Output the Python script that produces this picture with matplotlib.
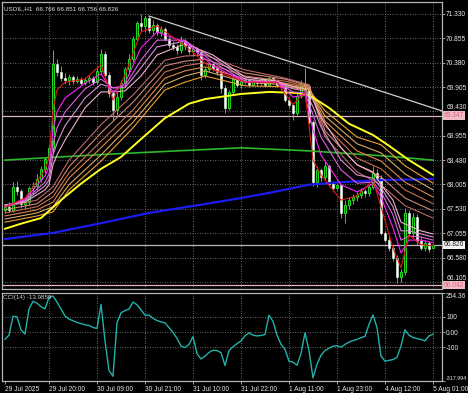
import matplotlib
matplotlib.use("Agg")
import matplotlib.pyplot as plt
import matplotlib.transforms as mtransforms
import numpy as np

plt.rcParams['font.family'] = ['Liberation Sans', 'DejaVu Sans']

# ---------------- data (hourly bars) ----------------
OPEN = [67.50, 67.56, 67.50, 67.95, 67.88, 67.62, 67.66, 67.93, 67.97, 68.12,
        68.30, 68.50, 68.72, 70.35, 70.20, 70.08, 70.04, 70.10, 70.02, 70.07,
        69.99, 70.05, 70.08, 70.00, 70.22, 70.55, 70.14, 69.78, 69.45, 69.72,
        69.98, 70.25, 70.45, 70.85, 71.15, 71.10, 71.25, 71.02, 71.12, 70.98,
        71.03, 70.85, 70.72, 70.68, 70.62, 70.80, 70.70, 70.60, 70.64, 70.58,
        70.14, 70.26, 70.35, 70.28, 70.20, 69.88, 69.50, 69.80, 70.06, 69.95,
        70.00, 70.05, 69.95, 70.02, 69.98, 70.06, 69.95, 70.08, 70.02, 69.95,
        69.90, 69.66, 69.55, 69.40, 69.74, 69.96, 69.92, 69.22, 68.06, 68.28,
        68.15, 68.36, 68.02, 67.94, 68.00, 67.44, 67.60, 67.70, 67.76, 67.80,
        67.88, 67.83, 67.96, 68.22, 68.13, 67.06, 66.93, 66.76, 66.58, 66.20,
        66.30, 67.45, 67.05, 67.38, 66.90, 66.76, 66.86, 66.766]
HIGH = [67.62, 67.66, 68.05, 68.08, 67.92, 67.74, 67.98, 68.06, 68.20, 68.36,
        68.55, 68.78, 70.62, 70.45, 70.32, 70.18, 70.16, 70.14, 70.12, 70.10,
        70.10, 70.14, 70.12, 70.30, 70.65, 70.60, 70.20, 69.85, 69.80, 70.05,
        70.30, 70.55, 70.90, 71.20, 71.33, 71.30, 71.30, 71.22, 71.16, 71.10,
        71.08, 70.90, 70.80, 70.74, 70.90, 70.84, 70.76, 70.70, 70.68, 70.62,
        70.30, 70.40, 70.38, 70.32, 70.24, 69.95, 69.85, 70.12, 70.10, 70.06,
        70.10, 70.08, 70.06, 70.05, 70.10, 70.08, 70.12, 70.10, 70.04, 69.98,
        69.94, 69.72, 69.60, 69.78, 70.05, 70.28, 69.95, 69.26, 68.36, 68.32,
        68.46, 68.40, 68.08, 68.04, 68.02, 67.70, 67.76, 67.82, 67.86, 67.94,
        67.92, 68.00, 68.36, 68.30, 68.18, 67.10, 67.00, 66.80, 66.62, 66.36,
        67.55, 67.50, 67.45, 67.42, 66.98, 66.92, 66.90, 66.851]
LOW = [67.44, 67.46, 67.46, 67.80, 67.55, 67.52, 67.60, 67.82, 67.90, 68.05,
       68.22, 68.42, 68.62, 70.12, 70.02, 69.96, 69.95, 69.96, 69.98, 69.94,
       69.95, 69.98, 69.94, 69.96, 70.15, 70.08, 69.72, 69.26, 69.36, 69.65,
       69.90, 70.15, 70.40, 70.80, 71.00, 70.98, 70.95, 70.92, 70.92, 70.90,
       70.80, 70.66, 70.62, 70.55, 70.56, 70.62, 70.55, 70.52, 70.52, 70.05,
       70.08, 70.20, 70.22, 70.14, 69.78, 69.40, 69.45, 69.76, 69.90, 69.88,
       69.96, 69.90, 69.92, 69.92, 69.95, 69.90, 69.92, 69.96, 69.90, 69.85,
       69.62, 69.50, 69.26, 69.36, 69.70, 69.85, 69.18, 67.98, 67.96, 68.08,
       68.10, 67.98, 67.88, 67.90, 67.36, 67.26, 67.52, 67.62, 67.68, 67.74,
       67.76, 67.78, 67.92, 68.08, 67.02, 66.88, 66.70, 66.52, 66.08, 66.10,
       66.24, 67.00, 66.98, 66.82, 66.72, 66.70, 66.68, 66.756]
CLOSE = [67.56, 67.50, 67.95, 67.88, 67.62, 67.66, 67.93, 67.97, 68.12, 68.30,
         68.50, 68.72, 70.35, 70.20, 70.08, 70.04, 70.10, 70.02, 70.07, 69.99,
         70.05, 70.08, 70.00, 70.22, 70.55, 70.14, 69.78, 69.45, 69.72, 69.98,
         70.25, 70.45, 70.85, 71.15, 71.10, 71.25, 71.02, 71.12, 70.98, 71.03,
         70.85, 70.72, 70.68, 70.62, 70.80, 70.70, 70.60, 70.64, 70.58, 70.14,
         70.26, 70.35, 70.28, 70.20, 69.88, 69.50, 69.80, 70.06, 69.95, 70.00,
         70.05, 69.95, 70.02, 69.98, 70.06, 69.95, 70.08, 70.02, 69.95, 69.90,
         69.66, 69.55, 69.40, 69.74, 69.96, 69.92, 69.22, 68.06, 68.28, 68.15,
         68.36, 68.02, 67.94, 68.00, 67.44, 67.60, 67.70, 67.76, 67.80, 67.88,
         67.83, 67.96, 68.22, 68.13, 67.06, 66.93, 66.76, 66.58, 66.20, 66.30,
         67.45, 67.05, 67.38, 66.90, 66.76, 66.86, 66.74, 66.826]

CCI = [-46, -20, 103, 100, 15, -13, 150, 200, 188, 165,
       151, 225, 235, 195, 150, 105, 85, 74, 63, 55,
       48, 43, 30, 24, 180, -57, -250, -287, 60, 125,
       140, 150, 195, 178, 145, 110, 110, 90, 75, 67,
       60, 30, -2, -40, -90, -101, -80, -30, -140, -175,
       -156, -132, -118, -120, -134, -217, -120, -95, -75, -57,
       -24, -5, -20, -25, -22, -15, 110, 70, -20, -80,
       -112, -190, -195, -215, -140, -5, -120, -298, -210, -150,
       -120, -105, -92, -88, -98, -80, -65, -55, -48, -36,
       -28, 50, 112, 30, -156, -189, -184, -178, -165, -90,
       15, -20, -35, -42, -48, -57, -25, -14]

# fast ribbon (read at these bar indices)
SHORT_IDX = [0, 5, 10, 11, 12, 13, 15, 20, 24, 27, 30, 34, 38, 45, 52, 60, 68, 72, 75,
             77, 79, 84, 88, 92, 94, 97, 99, 101, 104, 107]
S1 = [67.57, 67.74, 68.29, 68.52, 69.46, 69.85, 70.00, 70.06, 70.34, 69.65, 70.14, 70.98,
      71.10, 70.71, 70.24, 70.00, 70.00, 69.56, 69.81, 68.48, 68.19, 67.70, 67.78, 68.09,
      67.57, 66.77, 66.38, 67.02, 66.83, 66.81]
S2 = [67.57, 67.72, 68.17, 68.35, 69.07, 69.42, 69.69, 69.98, 70.16, 69.81, 69.98, 70.67,
      70.98, 70.78, 70.32, 70.00, 70.00, 69.71, 69.75, 69.07, 68.58, 68.00, 67.86, 68.02,
      67.76, 67.16, 66.67, 66.92, 66.92, 66.87]
S3 = [67.59, 67.70, 68.05, 68.21, 68.78, 69.11, 69.42, 69.87, 70.06, 69.89, 69.93, 70.43,
      70.82, 70.82, 70.39, 70.02, 70.00, 69.81, 69.79, 69.36, 68.93, 68.29, 68.03, 68.05,
      67.86, 67.41, 66.92, 67.00, 66.98, 66.92]
S4 = [67.59, 67.68, 67.98, 68.09, 68.58, 68.81, 69.15, 69.69, 69.96, 69.89, 69.89, 70.28,
      70.69, 70.80, 70.47, 70.06, 70.00, 69.87, 69.83, 69.52, 69.13, 68.48, 68.19, 68.13,
      67.94, 67.57, 67.10, 67.10, 67.04, 66.98]
S5 = [67.61, 67.66, 67.90, 68.00, 68.39, 68.58, 68.87, 69.50, 69.81, 69.81, 69.83, 70.12,
      70.53, 70.75, 70.53, 70.10, 70.02, 69.91, 69.87, 69.65, 69.32, 68.72, 68.39, 68.25,
      68.00, 67.70, 67.27, 67.20, 67.10, 67.04]

# slow ribbon
LONG_IDX = [0, 8, 12, 16, 24, 32, 40, 45, 50, 60, 70, 76, 80, 88, 94, 100, 107]
L1 = [67.57, 67.70, 67.96, 68.48, 69.17, 69.75, 70.43, 70.51, 70.53, 70.24, 70.08, 69.95, 68.93, 68.25, 68.00, 67.59, 67.35]
L2 = [67.51, 67.63, 67.86, 68.35, 69.01, 69.61, 70.32, 70.41, 70.45, 70.18, 70.06, 69.93, 69.05, 68.39, 68.15, 67.74, 67.49]
L3 = [67.45, 67.57, 67.76, 68.23, 68.85, 69.46, 70.20, 70.32, 70.38, 70.12, 70.02, 69.91, 69.15, 68.52, 68.31, 67.90, 67.63]
L4 = [67.39, 67.51, 67.66, 68.13, 68.72, 69.34, 70.08, 70.22, 70.30, 70.06, 69.98, 69.89, 69.24, 68.66, 68.46, 68.05, 67.76]
L5 = [67.33, 67.45, 67.57, 68.00, 68.58, 69.22, 69.96, 70.12, 70.22, 70.00, 69.95, 69.87, 69.34, 68.80, 68.62, 68.21, 67.90]
L6 = [67.27, 67.39, 67.47, 67.90, 68.46, 69.11, 69.85, 70.00, 70.12, 69.93, 69.91, 69.85, 69.44, 68.93, 68.78, 68.37, 68.03]

YEL_IDX = [0, 4, 9, 14, 19, 24, 29, 34, 40, 46, 50, 59, 66, 73, 76, 81, 86, 92, 96, 101, 107]
YEL = [67.14, 67.24, 67.35, 67.70, 68.02, 68.31, 68.54, 68.89, 69.30, 69.58, 69.67,
       69.77, 69.81, 69.79, 69.75, 69.50, 69.19, 68.97, 68.76, 68.48, 68.19]

GREEN_IDX = [0, 27, 59, 76, 95, 107]
GREEN = [68.48, 68.60, 68.72, 68.66, 68.56, 68.48]
BLUE_IDX = [0, 12, 24, 36, 49, 59, 66, 76, 84, 94, 107]
BLUE = [66.94, 67.06, 67.25, 67.45, 67.61, 67.74, 67.84, 68.00, 68.05, 68.09, 68.11]

TREND_BARS = [36, 109.25]
TREND_PRICES = [71.29, 69.44]

LEVELS = [69.347, 66.826, 66.042]
LEVEL_LABELS = ['69.347', '66.826', '66.042']

PRICE_TICKS = [71.330, 70.855, 70.380, 69.905, 69.430, 68.955, 68.480, 68.005,
               67.530, 67.055, 66.580, 66.105]
CCI_TICKS = [-317.994, -100, 0, 100, 254.36]
CCI_TICK_LABELS = ['-317.994', '-100', '0.00', '100', '254.36']

TIME_IDX = [0, 11, 23, 35, 47, 59, 71, 83, 95, 107]
TIME_LABELS = ['29 Jul 2025', '29 Jul 20:00', '30 Jul 09:00', '30 Jul 21:00',
               '31 Jul 10:00', '31 Jul 22:00', '1 Aug 11:00', '1 Aug 23:00',
               '4 Aug 12:00', '5 Aug 01:00']

HEADER = 'USOIL,H1  66.766 66.851 66.756 66.826'
CCI_TITLE = 'CCI(14) -13.9859'

# ---------------- figure ----------------
W, H = 468, 393
fig = plt.figure(figsize=(W / 100, H / 100), dpi=100, facecolor='black')

def frac(x0, y0, x1, y1):
    return [x0 / W, 1 - y1 / H, (x1 - x0) / W, (y1 - y0) / H]

ax = fig.add_axes(frac(2, 2, 442, 289), facecolor='black')
cx = fig.add_axes(frac(2, 293, 442, 381), facecolor='black')

XMIN, XMAX = -0.75, 109.25
FS = 4.8
TXT = '#e6e6e6'
GRIDC = '#8c8c8c'
LIME = '#1ee01e'

for a in (ax, cx):
    a.set_xlim(XMIN, XMAX)
    for s in a.spines.values():
        s.set_color('#b4b4b4')
        s.set_linewidth(0.9)

ax.set_ylim(65.966, 71.564)
cx.set_ylim(-317.994, 254.36)

# grids
for a in (ax, cx):
    for i in TIME_IDX[1:]:
        a.axvline(i, color=GRIDC, lw=0.6, ls=(0, (1, 2)), zorder=0)
for p in PRICE_TICKS:
    ax.axhline(p, color=GRIDC, lw=0.6, ls=(0, (1, 2)), zorder=0)
for v in [100, 0, -100]:
    cx.axhline(v, color=GRIDC, lw=0.6, ls=(0, (1, 2)), zorder=0)

# level lines
level_cols = ['#dcb4bc', '#b8b8b8', '#e4b0bc']
for lv, col in zip(LEVELS, level_cols):
    ax.axhline(lv, color=col, lw=0.9, zorder=1)

# candles
idx = np.arange(len(CLOSE))
o = np.array(OPEN); h = np.array(HIGH); l = np.array(LOW); c = np.array(CLOSE)
up = c >= o
ax.vlines(idx, l, h, color=LIME, lw=0.7, zorder=2)
bot = np.minimum(o, c)
hgt = np.maximum(np.abs(c - o), 0.012)
ax.bar(idx[up], hgt[up], bottom=bot[up], width=0.62, color='#0a3a0a',
       edgecolor=LIME, linewidth=0.7, zorder=3)
ax.bar(idx[~up], hgt[~up], bottom=bot[~up], width=0.62, color='white',
       edgecolor='#e8ffe8', linewidth=0.4, zorder=3)

# moving averages
ax.plot(BLUE_IDX, BLUE, color='#1c1cf0', lw=1.6, zorder=4)
ax.plot(GREEN_IDX, GREEN, color='#2cb82c', lw=1.2, zorder=4)
long_cols = ['#c06868', '#d08878', '#c87050', '#e08848', '#d8a868', '#f0a030']
for ys, col in zip([L1, L2, L3, L4, L5, L6], long_cols):
    ax.plot(LONG_IDX, ys, color=col, lw=0.8, zorder=5)
ax.plot(YEL_IDX, YEL, color='#ffff20', lw=1.4, zorder=5)
short_cols = ['#e01818', '#ff20ff', '#e060e0', '#d890d8', '#f0b0d0']
for ys, col in zip([S1, S2, S3, S4, S5][::-1], short_cols[::-1]):
    ax.plot(SHORT_IDX, ys, color=col, lw=0.8, zorder=6)

# trendline
ax.plot(TREND_BARS, TREND_PRICES, color='#cfcfcf', lw=0.9, zorder=6)

# price axis
ax.yaxis.tick_right()
ax.set_yticks(PRICE_TICKS)
ax.set_yticklabels(['%.3f' % p for p in PRICE_TICKS])
ax.tick_params(axis='y', colors='#b4b4b4', labelcolor=TXT, labelsize=FS,
               length=2, width=0.6, pad=1)
ylabs = ax.get_yticklabels()
ylabs[-1].set_va('bottom')   # 66.105 sits just above the 66.042 box
ylabs[4].set_va('bottom')    # 69.430 sits just above the 69.347 box
ax.set_xticks([])

# level price boxes
trans = mtransforms.blended_transform_factory(ax.transAxes, ax.transData)
box_fc = ['#f2bcc6', '#f4f4f4', '#f2bcc6']
box_tc = ['#e0607a', '#202020', '#e0607a']
for lv, lab, fc, tc in zip(LEVELS, LEVEL_LABELS, box_fc, box_tc):
    ax.text(1.0045, lv, lab, transform=trans, ha='left', va='center', fontsize=FS,
            color=tc, clip_on=False, zorder=10,
            bbox=dict(boxstyle='square,pad=0.1', fc=fc, ec='none'))

# header
ax.text(0.005, 0.978, HEADER, transform=ax.transAxes, ha='left', va='center',
        fontsize=4.5, color=TXT, zorder=10)

# CCI
cx.plot(idx, CCI, color='#20b2aa', lw=1.0, zorder=4)
cx.text(0.002, 0.945, CCI_TITLE, transform=cx.transAxes, ha='left', va='center',
        fontsize=4.5, color='#d0d0d0', zorder=10)
cx.yaxis.tick_right()
cx.set_yticks(CCI_TICKS)
cx.set_yticklabels(CCI_TICK_LABELS)
cx.tick_params(axis='y', colors='#b4b4b4', labelcolor=TXT, labelsize=FS,
               length=2, width=0.6, pad=1)
labs = cx.get_yticklabels()
labs[0].set_va('bottom')
labs[0].set_fontsize(3.9)
labs[-1].set_va('top')

cx.set_xticks(TIME_IDX)
cx.set_xticklabels(TIME_LABELS)
cx.tick_params(axis='x', colors='#b4b4b4', labelcolor=TXT, labelsize=FS,
               length=2, width=0.6, pad=1.5)
for t in cx.get_xticklabels():
    t.set_ha('left')

fig.savefig('out.png', dpi=100, facecolor='black')
